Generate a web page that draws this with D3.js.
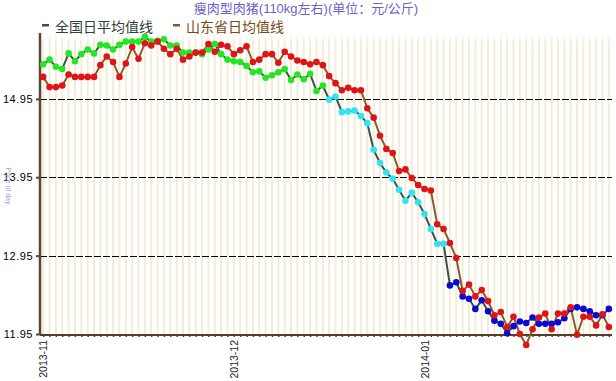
<!DOCTYPE html>
<html>
<head>
<meta charset="utf-8">
<script src="https://cdn.jsdelivr.net/npm/d3@7"></script>
<style>
    body { margin: 0; background: #fff; }
    text { font-family: "Liberation Sans", Arial, sans-serif; }
    .cjk { font-family: "Liberation Sans", "Noto Sans CJK SC", sans-serif; }
</style>
</head>
<body>
<div id="chart"></div>
<script>
const WIDTH = 616;
const HEIGHT = 381;

// daily average price, yuan/kg (90 days from 2013-11-01)
const national = [
    15.39, 15.45, 15.36, 15.33, 15.53, 15.43, 15.52, 15.58, 15.53, 15.64,
    15.63, 15.58, 15.64, 15.68, 15.68, 15.68, 15.74, 15.68, 15.69, 15.71,
    15.63, 15.63, 15.54, 15.54, 15.54, 15.52, 15.58, 15.65, 15.52, 15.45,
    15.43, 15.42, 15.37, 15.29, 15.30, 15.22, 15.25, 15.29, 15.33, 15.19,
    15.26, 15.20, 15.27, 15.05, 15.12, 14.94, 14.98, 14.78, 14.79, 14.80,
    14.73, 14.64, 14.30, 14.13, 14.01, 13.93, 13.79, 13.65, 13.75, 13.63,
    13.48, 13.29, 13.10, 13.10, 12.57, 12.61, 12.43, 12.40, 12.27, 12.38,
    12.24, 12.12, 12.08, 11.96, 12.05, 12.11, 12.09, 12.16, 12.08, 12.08,
    12.08, 12.10, 12.15, 12.27, 12.29, 12.27, 12.24, 12.19, 12.19, 12.27
];
const shandong = [
    15.23, 15.10, 15.10, 15.12, 15.26, 15.23, 15.23, 15.23, 15.23, 15.38,
    15.49, 15.42, 15.23, 15.40, 15.61, 15.46, 15.66, 15.63, 15.68, 15.59,
    15.52, 15.59, 15.45, 15.49, 15.54, 15.54, 15.65, 15.55, 15.64, 15.62,
    15.52, 15.57, 15.62, 15.42, 15.45, 15.52, 15.52, 15.41, 15.55, 15.49,
    15.44, 15.42, 15.39, 15.42, 15.38, 15.24, 15.15, 15.06, 15.09, 15.06,
    15.06, 14.83, 14.71, 14.48, 14.31, 14.26, 14.03, 14.05, 13.94, 13.85,
    13.80, 13.78, 13.35, 13.29, 13.11, 12.92, 12.50, 12.58, 12.43, 12.51,
    12.37, 12.19, 12.23, 12.04, 12.17, 11.95, 11.81, 12.01, 12.16, 12.21,
    12.01, 12.21, 12.21, 12.29, 11.94, 12.17, 12.17, 12.06, 12.20, 12.04
];
const monthLabels = ["2013-11", "2013-12", "2014-01"];
const monthStart = [0, 30, 60];
const yTicks = [11.95, 12.95, 13.95, 14.95];
const legendNames = ["全国日平均值线", "山东省日均值线"];

const LEFT = 40, RIGHT = 612, TOP = 33, BOTTOM = 334;
const NATIONAL_LINE = "#3c5048";
const SHANDONG_LINE = "#8a5a2a";

const svg = d3.select("#chart")
    .append("svg")
    .attr("width", WIDTH)
    .attr("height", HEIGHT);

const x = d3.scalePoint()
    .domain(d3.range(national.length))
    .range([LEFT, RIGHT])
    .padding(0.5);

const y = d3.scaleLinear()
    .domain([11.95, 15.79])
    .range([BOTTOM, TOP]);

// national dots change colour with the price level
const dotColor = d3.scaleThreshold()
    .domain([13, 15])
    .range(["#0a0ad0", "#30e4f2", "#22e822"]);

// cream day stripes, fading out at the top
const grad = svg.append("defs").append("linearGradient")
    .attr("id", "fade")
    .attr("gradientUnits", "userSpaceOnUse")
    .attr("x1", 0).attr("y1", TOP)
    .attr("x2", 0).attr("y2", TOP + 10);
grad.append("stop").attr("offset", 0).attr("stop-color", "#fff");
grad.append("stop").attr("offset", 1).attr("stop-color", "#f3edd6");

svg.append("g")
    .selectAll("line")
    .data(x.domain())
    .enter().append("line")
    .attr("x1", d => x(d)).attr("x2", d => x(d))
    .attr("y1", TOP).attr("y2", BOTTOM)
    .attr("stroke", "url(#fade)")
    .attr("stroke-width", 2);

// dashed horizontal grid
svg.append("g")
    .selectAll("line")
    .data(yTicks)
    .enter().append("line")
    .attr("x1", LEFT).attr("x2", RIGHT)
    .attr("y1", d => Math.round(y(d)) + 0.5)
    .attr("y2", d => Math.round(y(d)) + 0.5)
    .attr("stroke", "#000")
    .attr("stroke-dasharray", "7,2");

// y axis
const yAxis = svg.append("g")
    .attr("transform", "translate(" + LEFT + ",0)")
    .call(d3.axisLeft(y).tickValues(yTicks).tickSize(4).tickFormat(d3.format(".2f")));
yAxis.select(".domain").remove();
yAxis.selectAll(".tick line").attr("stroke", "#5a4632").attr("stroke-width", 2);
yAxis.selectAll(".tick text")
    .attr("x", -7)
    .style("font-size", "11px")
    .style("letter-spacing", "0.5px")
    .attr("fill", "#000");
svg.append("line")
    .attr("x1", LEFT).attr("x2", LEFT)
    .attr("y1", TOP).attr("y2", BOTTOM + 1)
    .attr("stroke", "#5a4632")
    .attr("stroke-width", 2.5);

// x axis: a tick under every day, label on the first of each month
const xAxis = svg.append("g")
    .attr("transform", "translate(0," + BOTTOM + ")")
    .call(d3.axisBottom(x).tickSize(3).tickFormat(""));
xAxis.select(".domain").remove();
xAxis.selectAll(".tick line").attr("stroke", "#5a3c28").attr("stroke-width", 1.5);
svg.append("line")
    .attr("x1", LEFT).attr("x2", RIGHT)
    .attr("y1", BOTTOM + 1).attr("y2", BOTTOM + 1)
    .attr("stroke", "#5a3c28")
    .attr("stroke-width", 2);

svg.append("g")
    .selectAll("text")
    .data(monthStart)
    .enter().append("text")
    .attr("transform", d => "translate(" + (x(d) + 4) + "," + (BOTTOM + 6) + ") rotate(-90)")
    .attr("text-anchor", "end")
    .style("font-size", "10.5px")
    .attr("fill", "#222")
    .text((d, i) => monthLabels[i]);

// little rotated axis caption
svg.append("text")
    .attr("transform", "translate(6,186) rotate(90)")
    .attr("text-anchor", "middle")
    .style("font-size", "7px")
    .attr("fill", "#a8a0dc")
    .text("Price of day");

// lines
const line = d3.line()
    .x((d, i) => x(i))
    .y(d => y(d));

svg.append("path")
    .datum(national)
    .attr("d", line)
    .attr("fill", "none")
    .attr("stroke", NATIONAL_LINE)
    .attr("stroke-width", 2);

svg.append("path")
    .datum(shandong)
    .attr("d", line)
    .attr("fill", "none")
    .attr("stroke", SHANDONG_LINE)
    .attr("stroke-width", 2);

// dots
svg.append("g")
    .selectAll("circle")
    .data(national)
    .enter().append("circle")
    .attr("cx", (d, i) => x(i))
    .attr("cy", d => y(d))
    .attr("r", 3.3)
    .attr("fill", d => dotColor(d));

svg.append("g")
    .selectAll("circle")
    .data(shandong)
    .enter().append("circle")
    .attr("cx", (d, i) => x(i))
    .attr("cy", d => y(d))
    .attr("r", 3.3)
    .attr("fill", "#e01414");

// title
svg.append("text")
    .attr("class", "cjk")
    .attr("x", 306)
    .attr("y", 13)
    .attr("text-anchor", "middle")
    .style("font-size", "13px")
    .attr("fill", "#6a62c8")
    .text("瘦肉型肉猪(110kg左右)(单位：元/公斤)");

// legend
const legendColors = [NATIONAL_LINE, SHANDONG_LINE];
const legendX = [42, 173];
const legend = svg.append("g")
    .selectAll("g")
    .data(legendNames)
    .enter().append("g")
    .attr("transform", (d, i) => "translate(" + legendX[i] + ",0)");
legend.append("rect")
    .attr("x", 0).attr("y", 24)
    .attr("width", 7).attr("height", 2.5)
    .attr("fill", (d, i) => legendColors[i]);
legend.append("text")
    .attr("class", "cjk")
    .attr("x", 13)
    .attr("y", 32)
    .style("font-size", "14px")
    .attr("fill", (d, i) => i === 0 ? "#2f3f3a" : "#7a4a14")
    .text(d => d);
</script>
</body>
</html>
